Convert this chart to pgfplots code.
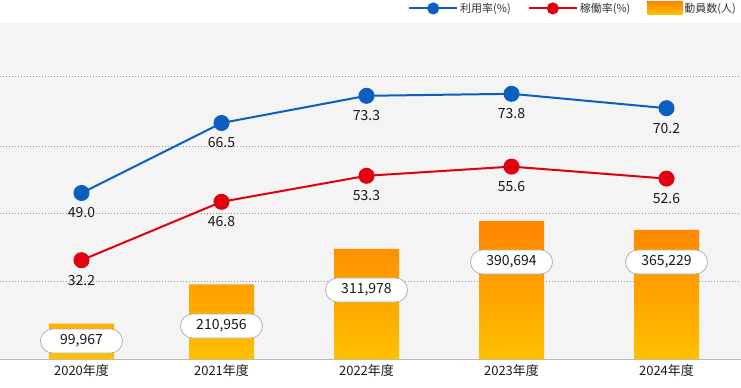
\documentclass[border=0pt]{standalone}
\usepackage{fontspec}
\setmainfont{Noto Sans CJK JP}
\usepackage{pgfplots}
\pgfplotsset{compat=1.18}
\usepackage{pgfplotstable}

\definecolor{bluel}{HTML}{0B5FBF}
\definecolor{redl}{HTML}{E00010}
\definecolor{bgg}{HTML}{F4F4F4}
\definecolor{barTop}{HTML}{FF8400}
\definecolor{barBot}{HTML}{FFC000}

\pgfplotstableread{
x bar lab laby
81.5 99967 99,967 50940
221.5 210956 210,956 93390
366.5 311978 311,978 195270
511.5 390694 390,694 274510
666.5 365229 365,229 274510
}\bars

\pgfplotstableread{
x util ulab rate rlab
81.5 49.0 49.0 32.2 32.2
221.5 66.5 66.5 46.8 46.8
366.5 73.3 73.3 53.3 53.3
511.5 73.8 73.8 55.6 55.6
666.5 70.2 70.2 52.6 52.6
}\lines

\begin{document}
\begin{tikzpicture}
\begin{axis}[
  name=ax1, at={(0pt,0pt)}, anchor=origin, scale only axis,
  width=741pt, height=336pt,
  xmin=0, xmax=741, ymin=0, ymax=950880,
  scaled y ticks=false,
  axis background/.style={fill=bgg},
  axis x line*=bottom, axis y line*=left,
  y axis line style={draw=none},
  x axis line style={draw=gray!55, line width=1pt, -},
  xtick={81.5,221.5,366.5,511.5,666.5},
  xticklabels={2020年度,2021年度,2022年度,2023年度,2024年度},
  major tick length=0pt,
  ytick={220740,413180,602960,800060},
  yticklabels={},
  yticklabel style={inner sep=0pt},
  ymajorgrids,
  grid style={draw=gray!85, dash pattern=on 1pt off 2pt, line width=0.8pt},
  tick label style={font=\fontsize{13}{15}\selectfont, text=black!90},
  xticklabel style={yshift=-2pt},
  clip=false,
]
\addplot[ybar, bar width=65pt, bar shift=0pt, draw=none, top color=barTop, bottom color=barBot] table[x=x,y=bar]{\bars};
\addplot[draw=none, mark=none, nodes near coords, point meta=explicit symbolic,
  nodes near coords style={anchor=center, draw=gray!60, fill=white, rounded corners=12pt,
    minimum width=82pt, minimum height=24pt, inner sep=0pt, line width=0.8pt,
    font=\fontsize{14}{16}\selectfont, text=black!90}]
  table[x=x,y=laby,meta=lab]{\bars};
\end{axis}
\begin{axis}[
  at={(ax1.south west)}, anchor=south west, scale only axis,
  width=741pt, height=336pt,
  xmin=0, xmax=741, ymin=7.5, ymax=91.5,
  hide axis, clip=false,
  legend style={at={(1,1)}, anchor=south east, xshift=-3pt, yshift=7pt, draw=none, fill=none,
    inner sep=0pt, font=\fontsize{11}{12}\selectfont, text=black!80,
    /tikz/every even column/.append style={column sep=15pt}},
  legend columns=3, legend cell align=left,
  legend image code/.code={\draw[mark repeat=2, mark phase=2, #1, mark size=5pt] plot coordinates {(0pt,0pt) (24pt,0pt) (48pt,0pt)};},
]
\addplot[bluel, line width=2pt, mark=*, mark size=7pt, mark options={draw=none, fill=bluel},
  nodes near coords, point meta=explicit symbolic,
  nodes near coords style={anchor=center, yshift=-20pt, font=\fontsize{14}{16}\selectfont, text=black!90}]
  table[x=x,y=util,meta=ulab]{\lines};
\addlegendentry{利用率(\%)}
\addplot[redl, line width=2pt, mark=*, mark size=7pt, mark options={draw=none, fill=redl},
  nodes near coords, point meta=explicit symbolic,
  nodes near coords style={anchor=center, yshift=-20pt, font=\fontsize{14}{16}\selectfont, text=black!90}]
  table[x=x,y=rate,meta=rlab]{\lines};
\addlegendentry{稼働率(\%)}
\addlegendimage{legend image code/.code={\fill[draw=none, top color=barTop, bottom color=barBot] (0pt,-6pt) rectangle (35pt,7pt);}}
\addlegendentry{動員数(人)}
\end{axis}
\pgfresetboundingbox
\path[use as bounding box] ([yshift=-28pt]ax1.south west) rectangle ([yshift=23pt]ax1.north east);
\end{tikzpicture}
\end{document}
